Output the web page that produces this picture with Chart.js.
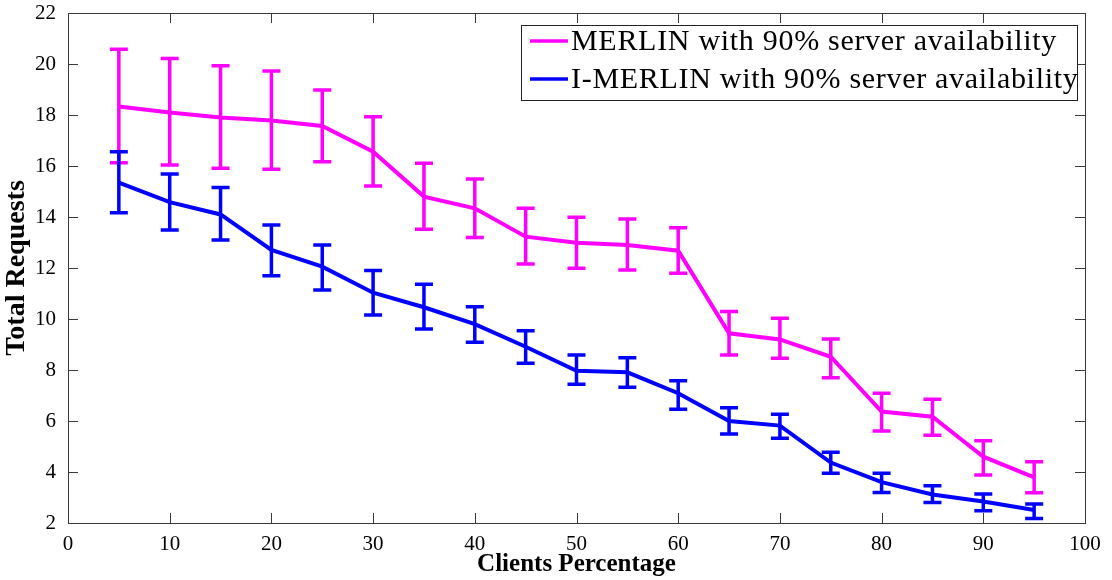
<!DOCTYPE html>
<html lang="en-US">
<head>
  <meta charset="utf-8">
  <title>Total Requests vs Clients Percentage</title>
  <script src="https://cdn.jsdelivr.net/npm/chart.js@4.4.1/dist/chart.umd.min.js"></script>
  <style>
  html, body { margin: 0; padding: 0; background: #fff; }
  #holder { width: 1112px; height: 580px; }
  </style>
</head>
<body>
<div id="holder"><canvas id="chart"></canvas></div>
<script>
  const clientsPct = [5, 10, 15, 20, 25, 30, 35, 40, 45, 50, 55, 60, 65, 70, 75, 80, 85, 90, 95];

  const merlinMean = [18.33, 18.10, 17.90, 17.78, 17.57, 16.56, 14.80, 14.34, 13.23, 12.99, 12.90, 12.68, 9.44, 9.20, 8.52, 6.37, 6.17, 4.60, 3.79];
  const merlinHigh = [20.58, 20.22, 19.93, 19.73, 18.98, 17.93, 16.11, 15.49, 14.34, 13.99, 13.92, 13.58, 10.29, 10.03, 9.22, 7.09, 6.85, 5.23, 4.40];
  const merlinLow  = [16.13, 16.04, 15.91, 15.87, 16.17, 15.22, 13.52, 13.20, 12.16, 11.99, 11.92, 11.79, 8.59, 8.46, 7.70, 5.61, 5.44, 3.88, 3.19];

  const imerlinMean = [15.35, 14.58, 14.10, 12.71, 12.05, 11.03, 10.46, 9.80, 8.91, 7.97, 7.91, 7.09, 6.00, 5.82, 4.37, 3.60, 3.12, 2.84, 2.51];
  const imerlinHigh = [16.56, 15.69, 15.16, 13.69, 12.90, 11.90, 11.36, 10.48, 9.54, 8.59, 8.48, 7.58, 6.52, 6.26, 4.77, 3.95, 3.46, 3.14, 2.75];
  const imerlinLow  = [14.17, 13.49, 13.10, 11.70, 11.14, 10.16, 9.61, 9.09, 8.26, 7.44, 7.32, 6.46, 5.49, 5.32, 3.95, 3.20, 2.80, 2.48, 2.18];

  const seriesNames = ['MERLIN with 90% server availability', 'I-MERLIN with 90% server availability'];

  const COLORS = {
    magenta: '#ff00ff',
    blue: '#0000ff',
    axis: '#3a3a3a',
  };
  const SERIF = '"Liberation Serif", "Times New Roman", serif';

  function points(ys) {
    return clientsPct.map((x, i) => ({ x: x, y: ys[i] }));
  }

  // error bars with caps, drawn on top of the lines
  const errorBars = {
    id: 'errorBars',
    afterDatasetsDraw(chart) {
      const ctx = chart.ctx;
      const xs = chart.scales.x, ys = chart.scales.y;
      ctx.save();
      chart.data.datasets.forEach(ds => {
        ctx.strokeStyle = ds.borderColor;
        ctx.lineWidth = 3.5;
        ctx.lineCap = 'butt';
        clientsPct.forEach((x, i) => {
          const px = xs.getPixelForValue(x);
          const hi = ys.getPixelForValue(ds.high[i]);
          const lo = ys.getPixelForValue(ds.low[i]);
          ctx.beginPath();
          ctx.moveTo(px, hi); ctx.lineTo(px, lo);
          ctx.moveTo(px - 9, hi); ctx.lineTo(px + 9, hi);
          ctx.moveTo(px - 9, lo); ctx.lineTo(px + 9, lo);
          ctx.stroke();
        });
      });
      ctx.restore();
    }
  };

  // box round the plot with inward ticks on all four sides, plus the legend
  const frame = {
    id: 'frame',
    afterDraw(chart) {
      const ctx = chart.ctx;
      const a = chart.chartArea;
      const xs = chart.scales.x, ys = chart.scales.y;
      const tl = 10;
      ctx.save();
      ctx.strokeStyle = COLORS.axis;
      ctx.lineWidth = 1;
      ctx.strokeRect(Math.round(a.left) + 0.5, Math.round(a.top) + 0.5,
        Math.round(a.right - a.left), Math.round(a.bottom - a.top));
      ctx.beginPath();
      xs.ticks.forEach(t => {
        const px = Math.round(xs.getPixelForValue(t.value)) + 0.5;
        ctx.moveTo(px, a.bottom); ctx.lineTo(px, a.bottom - tl);
        ctx.moveTo(px, a.top); ctx.lineTo(px, a.top + tl);
      });
      ys.ticks.forEach(t => {
        const py = Math.round(ys.getPixelForValue(t.value)) + 0.5;
        ctx.moveTo(a.left, py); ctx.lineTo(a.left + tl, py);
        ctx.moveTo(a.right, py); ctx.lineTo(a.right - tl, py);
      });
      ctx.stroke();

      const bx = 521, by = 25, bw = 556, bh = 75;
      ctx.fillStyle = '#fff';
      ctx.fillRect(bx, by, bw, bh);
      ctx.strokeStyle = '#222';
      ctx.strokeRect(bx + 0.5, by + 0.5, bw, bh);
      ctx.font = '30px ' + SERIF;
      ctx.letterSpacing = '0.7px';
      ctx.textBaseline = 'middle';
      ctx.textAlign = 'left';
      chart.data.datasets.forEach((ds, i) => {
        const cy = by + 16 + i * 38;
        ctx.strokeStyle = ds.borderColor;
        ctx.lineWidth = 3.5;
        ctx.beginPath();
        ctx.moveTo(bx + 9, cy); ctx.lineTo(bx + 47, cy);
        ctx.stroke();
        ctx.fillStyle = '#000';
        ctx.fillText(ds.label, bx + 50, cy + 1);
      });
      ctx.restore();
    }
  };

  const config = {
    type: 'line',
    data: {
      datasets: [{
        label: seriesNames[0],
        data: points(merlinMean),
        high: merlinHigh,
        low: merlinLow,
        borderColor: COLORS.magenta,
        borderWidth: 4,
        pointRadius: 0,
        tension: 0,
        fill: false
      }, {
        label: seriesNames[1],
        data: points(imerlinMean),
        high: imerlinHigh,
        low: imerlinLow,
        borderColor: COLORS.blue,
        borderWidth: 4,
        pointRadius: 0,
        tension: 0,
        fill: false
      }]
    },
    options: {
      responsive: true,
      maintainAspectRatio: false,
      animation: false,
      layout: { padding: { top: 13, right: 27, left: 0, bottom: 0 } },
      plugins: {
        legend: { display: false },
        tooltip: { enabled: false }
      },
      scales: {
        x: {
          type: 'linear',
          min: 0,
          max: 100,
          ticks: { stepSize: 10, color: '#000', padding: 1, font: { family: SERIF, size: 21 } },
          grid: { display: false },
          border: { display: false },
          title: {
            display: true,
            text: 'Clients Percentage',
            color: '#000',
            padding: { top: 0, bottom: 0 },
            font: { family: SERIF, size: 25, weight: 'bold' }
          },
          afterFit(scale) {
            scale.height = 57;
            scale.paddingLeft = 0;
            scale.paddingRight = 0;
          }
        },
        y: {
          min: 2,
          max: 22,
          ticks: { stepSize: 2, color: '#000', padding: 4, font: { family: SERIF, size: 21 } },
          grid: { display: false },
          border: { display: false },
          title: {
            display: true,
            text: 'Total Requests',
            color: '#000',
            padding: { top: 0, bottom: 0 },
            font: { family: SERIF, size: 28, weight: 'bold' }
          },
          afterFit(scale) {
            scale.width = 68;
            scale.paddingTop = 0;
            scale.paddingBottom = 0;
          }
        }
      }
    },
    plugins: [errorBars, frame]
  };

  new Chart(document.getElementById('chart'), config);
</script>
</body>
</html>
